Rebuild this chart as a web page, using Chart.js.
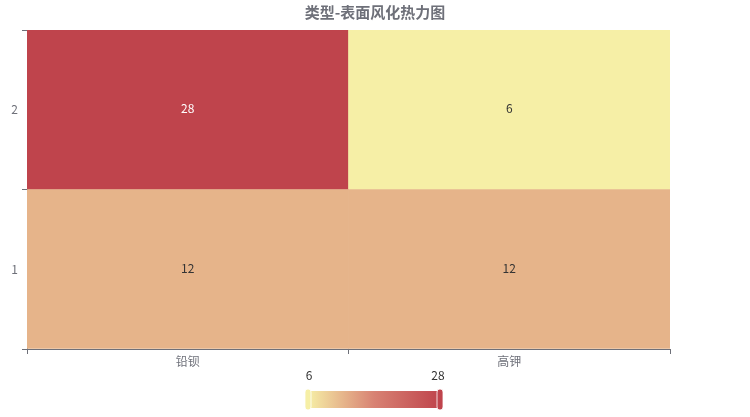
<!DOCTYPE html>
<html>
<head>
<meta charset="utf-8">
<script src="https://cdn.jsdelivr.net/npm/chart.js@4"></script>
<style>
  html, body { margin: 0; padding: 0; background: #fff; }
  #wrap { width: 750px; height: 417px; }
</style>
</head>
<body>
<div id="wrap"><canvas id="heat"></canvas></div>
<script>
// ---- data ----
const titleText = "类型-表面风化热力图";
const xCats = ["铅钡", "高钾"];
const yCats = ["1", "2"];
// values[row][col]
const row1Values = [12, 12];
const row2Values = [28, 6];
const cellValues = [row1Values, row2Values];
const rangeMin = 6;
const rangeMax = 28;
const palette = ["#f6efa6", "#d88273", "#bf444c"];

const FONT = "'Noto Sans CJK SC', 'Noto Sans', sans-serif";
const AXIS = "#6e7079";

function hexToRgb(h) {
    return [parseInt(h.substr(1, 2), 16), parseInt(h.substr(3, 2), 16), parseInt(h.substr(5, 2), 16)];
}

function colorFor(v) {
    let t = (v - rangeMin) / (rangeMax - rangeMin);
    t = Math.max(0, Math.min(1, t));
    const seg = t * (palette.length - 1);
    const i = Math.min(Math.floor(seg), palette.length - 2);
    const f = seg - i;
    const a = hexToRgb(palette[i]), b = hexToRgb(palette[i + 1]);
    const c = a.map((x, k) => Math.round(x + (b[k] - x) * f));
    return `rgb(${c[0]},${c[1]},${c[2]})`;
}

// one floating-bar dataset per row
const datasets = yCats.map((name, ri) => ({
    label: name,
    data: xCats.map(() => [ri, ri + 1]),
    values: cellValues[ri],
    backgroundColor: cellValues[ri].map(colorFor),
    borderWidth: 0,
    barPercentage: 1,
    categoryPercentage: 1,
    grouped: false
}));

// cell labels, title and the colour bar
const heatExtras = {
    id: "heatExtras",
    afterDatasetsDraw(chart) {
        const ctx = chart.ctx;
        ctx.save();
        ctx.font = "12px " + FONT;
        ctx.textAlign = "center";
        ctx.textBaseline = "middle";
        chart.data.datasets.forEach((ds, di) => {
            chart.getDatasetMeta(di).data.forEach((el, i) => {
                const v = ds.values[i];
                ctx.fillStyle = v > (rangeMin + rangeMax) / 2 ? "#fff" : "#333";
                ctx.fillText(String(v), el.x, (el.y + el.base) / 2 - 1);
            });
        });
        ctx.restore();
    },
    afterDraw(chart) {
        const ctx = chart.ctx;
        ctx.save();
        // title
        ctx.font = "bold 15px " + FONT;
        ctx.fillStyle = "#6e7079";
        ctx.textAlign = "center";
        ctx.textBaseline = "middle";
        ctx.fillText(titleText, 375, 12);

        // visual map
        const x0 = 308, x1 = 440, y0 = 391, h = 17;
        const g = ctx.createLinearGradient(x0, 0, x1, 0);
        palette.forEach((c, i) => g.addColorStop(i / (palette.length - 1), c));
        ctx.fillStyle = g;
        ctx.fillRect(x0, y0, x1 - x0, h);

        function handle(x, col) {
            ctx.fillStyle = col;
            ctx.beginPath();
            ctx.roundRect(x - 3, y0 - 2, 6, h + 4, 3);
            ctx.fill();
            ctx.strokeStyle = "rgba(255,255,255,0.8)";
            ctx.lineWidth = 1;
            ctx.stroke();
        }
        handle(x0, colorFor(rangeMin));
        handle(x1, colorFor(rangeMax));

        ctx.font = "12px " + FONT;
        ctx.fillStyle = "#333";
        ctx.fillText(String(rangeMin), x0 + 1, 375);
        ctx.fillText(String(rangeMax), x1 - 2, 375);
        ctx.restore();
    }
};

new Chart(document.getElementById("heat"), {
    type: "bar",
    data: { labels: xCats, datasets: datasets },
    options: {
        responsive: true,
        maintainAspectRatio: false,
        animation: false,
        layout: { padding: { top: 30, right: 80, bottom: 43, left: 0 } },
        plugins: {
            legend: { display: false },
            tooltip: { enabled: false },
            title: { display: false }
        },
        scales: {
            x: {
                offset: true,
                grid: {
                    offset: true,
                    drawOnChartArea: false,
                    tickLength: 5,
                    color: AXIS
                },
                border: { display: true, color: AXIS },
                ticks: { color: AXIS, font: { size: 12, family: FONT }, padding: 0 },
                afterFit(scale) { scale.height = 25; }
            },
            y: {
                min: 0,
                max: yCats.length,
                grid: {
                    drawOnChartArea: false,
                    tickLength: 5,
                    color: c => (c.tick && c.tick.value % 1 === 0) ? AXIS : "rgba(0,0,0,0)"
                },
                border: { display: true, color: AXIS },
                ticks: {
                    stepSize: 0.5,
                    autoSkip: false,
                    color: AXIS,
                    font: { size: 12, family: FONT },
                    padding: 4,
                    callback: v => (v % 1 === 0.5) ? yCats[v - 0.5] : ""
                },
                afterFit(scale) { scale.width = 27; }
            }
        }
    },
    plugins: [heatExtras]
});
</script>
</body>
</html>
